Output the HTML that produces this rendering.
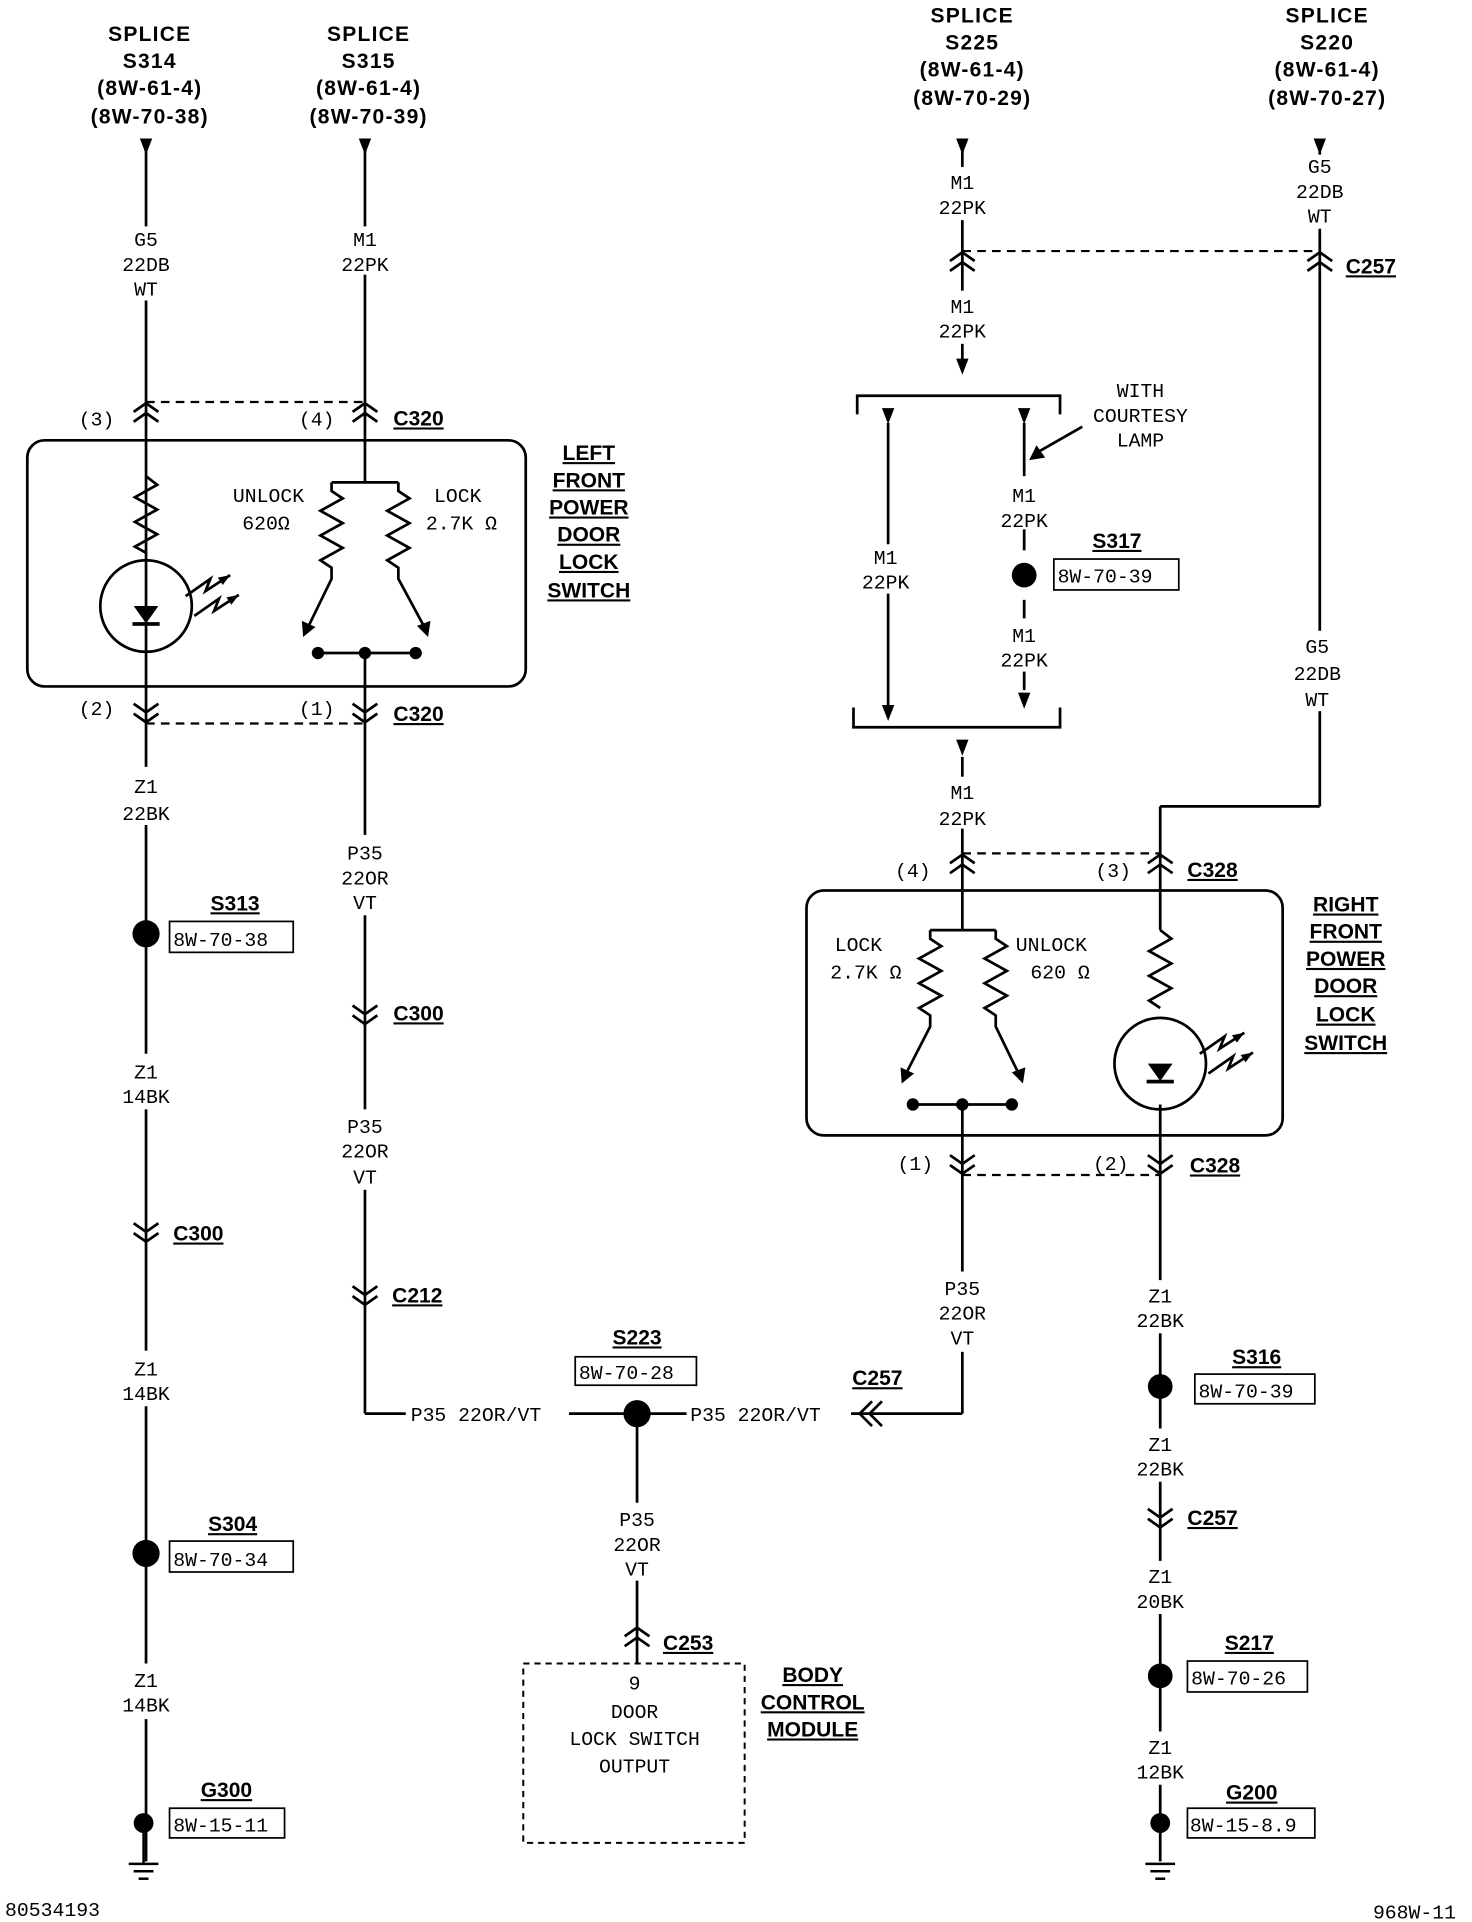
<!DOCTYPE html>
<html><head><meta charset="utf-8"><style>
html,body{margin:0;padding:0;background:#fff;}
svg{display:block;}
.h{font-family:"Liberation Sans",sans-serif;font-weight:bold;font-size:17px;letter-spacing:1px;text-anchor:middle;}
.w{font-family:"Liberation Mono",monospace;font-size:16px;text-anchor:middle;}
.l{font-family:"Liberation Mono",monospace;font-size:16px;}
.c{font-family:"Liberation Sans",sans-serif;font-weight:bold;font-size:17px;text-decoration:underline;}
.b{font-family:"Liberation Sans",sans-serif;font-weight:bold;font-size:17px;text-decoration:underline;text-anchor:middle;}
</style></head><body>
<svg width="1472" height="1922" viewBox="0 0 1190 1554" xmlns="http://www.w3.org/2000/svg">
<defs>
<g id="cu" fill="none" stroke="#000" stroke-width="2.2"><path d="M-10,7 L0,0 L10,7 M-10,15 L0,8 L10,15"/></g>
<g id="cd" fill="none" stroke="#000" stroke-width="2.2"><path d="M-10,-7 L0,0 L10,-7 M-10,-15 L0,-8 L10,-15"/></g>
<g id="ar"><path d="M-5,0 L5,0 L0,13 Z" fill="#000"/></g>
<g id="gnd" stroke="#000" stroke-width="2"><line x1="-12" y1="0" x2="12" y2="0"/><line x1="-8" y1="6" x2="8" y2="6"/><line x1="-4" y1="12" x2="4" y2="12"/></g>
</defs>
<g stroke="#000" stroke-width="2.2" fill="none">
<line x1="118" y1="118" x2="118" y2="183"/><line x1="118" y1="243" x2="118" y2="620"/>
<line x1="118" y1="667" x2="118" y2="852"/><line x1="118" y1="897" x2="118" y2="1092"/>
<line x1="118" y1="1137" x2="118" y2="1345"/><line x1="118" y1="1390" x2="118" y2="1505"/>
<line x1="295" y1="118" x2="295" y2="183"/><line x1="295" y1="222" x2="295" y2="390"/>
<line x1="295" y1="528" x2="295" y2="675"/><line x1="295" y1="740" x2="295" y2="897"/>
<line x1="295" y1="962" x2="295" y2="1143"/><line x1="295" y1="1143" x2="328" y2="1143"/>
<line x1="460" y1="1143" x2="505" y2="1143"/><line x1="525" y1="1143" x2="555" y2="1143"/>
<line x1="688" y1="1143" x2="778" y2="1143"/><line x1="778" y1="1143" x2="778" y2="1093"/>
<line x1="778" y1="950" x2="778" y2="1028"/>
<line x1="515" y1="1143" x2="515" y2="1215"/><line x1="515" y1="1278" x2="515" y2="1345"/>
<line x1="778" y1="118" x2="778" y2="135"/><line x1="778" y1="178" x2="778" y2="235"/>
<line x1="778" y1="278" x2="778" y2="292"/>
<line x1="1067" y1="118" x2="1067" y2="125"/><line x1="1067" y1="185" x2="1067" y2="510"/>
<line x1="1067" y1="575" x2="1067" y2="652"/><line x1="1067" y1="652" x2="938" y2="652"/>
<line x1="938" y1="652" x2="938" y2="752"/>
<line x1="778" y1="612" x2="778" y2="628"/><line x1="778" y1="670" x2="778" y2="752"/>
<line x1="938" y1="893" x2="938" y2="1035"/><line x1="938" y1="1078" x2="938" y2="1155"/>
<line x1="938" y1="1198" x2="938" y2="1262"/><line x1="938" y1="1305" x2="938" y2="1400"/>
<line x1="938" y1="1443" x2="938" y2="1505"/>
<line x1="778" y1="893" x2="778" y2="950"/>
<path d="M693,335 L693,320 L857,320 L857,335"/>
<path d="M690,572 L690,588 L857,588 L857,572"/>
<line x1="718" y1="342" x2="718" y2="440"/><line x1="718" y1="480" x2="718" y2="578"/>
<line x1="828" y1="342" x2="828" y2="385"/><line x1="828" y1="428" x2="828" y2="445"/>
<line x1="828" y1="485" x2="828" y2="500"/><line x1="828" y1="543" x2="828" y2="558"/>
<line x1="875" y1="345" x2="840" y2="365"/>
<rect x="22" y="356" width="403" height="199" rx="14"/>
<rect x="652" y="720" width="385" height="198" rx="14"/>
<rect x="423" y="1345" width="179" height="145" stroke-dasharray="5,4" stroke-width="1.6"/>
<g stroke-dasharray="7,5" stroke-width="1.8">
<line x1="118" y1="325" x2="295" y2="325"/><line x1="118" y1="585" x2="295" y2="585"/>
<line x1="778" y1="203" x2="1067" y2="203"/><line x1="778" y1="690" x2="938" y2="690"/>
<line x1="778" y1="950" x2="938" y2="950"/>
</g>
<path d="M118,385 L127,392 L109,402 L127,412 L109,422 L127,432 L109,442 L118,447"/>
<circle cx="118" cy="490" r="37"/>
<path d="M150,482 L170,468 L166,478 L186,465 M157,498 L177,484 L173,494 L193,481"/>
<line x1="268" y1="390" x2="322" y2="390"/>
<path d="M268,390 L268,397 L277,403 L259,413 L277,423 L259,433 L277,443 L259,453 L268,459 L268,468 L250,505"/>
<path d="M322,390 L322,397 L331,403 L313,413 L331,423 L313,433 L331,443 L313,453 L322,459 L322,468 L342,505"/>
<line x1="257" y1="528" x2="336" y2="528"/>
<line x1="752" y1="752" x2="805" y2="752"/>
<path d="M752,752 L752,759 L761,765 L743,775 L761,785 L743,795 L761,805 L743,815 L752,821 L752,830 L733,867"/>
<path d="M805,752 L805,759 L814,765 L796,775 L814,785 L796,795 L814,805 L796,815 L805,821 L805,830 L823,867"/>
<line x1="738" y1="893" x2="818" y2="893"/>
<path d="M938,752 L947,759 L929,769 L947,779 L929,789 L947,799 L929,809 L938,815"/>
<circle cx="938" cy="860" r="37"/>
<path d="M970,852 L990,838 L986,848 L1006,835 M977,868 L997,854 L993,864 L1013,851"/>
<g stroke-width="1.4">
<rect x="137" y="745" width="100" height="25"/><rect x="137" y="1246" width="100" height="25"/>
<rect x="137" y="1462" width="93" height="24"/><rect x="465" y="1097" width="98" height="23"/>
<rect x="852" y="452" width="101" height="25"/><rect x="966" y="1111" width="97" height="24"/>
<rect x="960" y="1343" width="97" height="25"/><rect x="960" y="1462" width="103" height="24"/>
</g>
<path d="M705,1133 L695,1143 L705,1153 M713,1133 L703,1143 L713,1153"/>
</g>
<g fill="#000">
<path d="M108,490 L128,490 L118,504 Z"/><rect x="107" y="503" width="22" height="3"/>
<path d="M928,860 L948,860 L938,874 Z"/><rect x="927" y="873" width="22" height="3"/>
<path d="M186,465 l-10,2 l4,6 Z"/><path d="M193,481 l-10,2 l4,6 Z"/>
<path d="M1006,835 l-10,2 l4,6 Z"/><path d="M1013,851 l-10,2 l4,6 Z"/>
<path d="M245,515 L244,502 L255,507 Z"/><path d="M346,515 L337,506 L348,502 Z"/>
<path d="M729,876 L728,863 L739,868 Z"/><path d="M827,876 L818,867 L829,863 Z"/>
<path d="M832,372 L838,360 L845,370 Z"/>
<circle cx="257" cy="528" r="5"/><circle cx="295" cy="528" r="5"/><circle cx="336" cy="528" r="5"/>
<circle cx="738" cy="893" r="5"/><circle cx="778" cy="893" r="5"/><circle cx="818" cy="893" r="5"/>
<circle cx="118" cy="755" r="11"/><circle cx="118" cy="1256" r="11"/><circle cx="116" cy="1474" r="8"/>
<circle cx="515" cy="1143" r="11"/><circle cx="828" cy="465" r="10"/>
<circle cx="938" cy="1121" r="10"/><circle cx="938" cy="1355" r="10"/><circle cx="938" cy="1474" r="8"/>
</g>
<use href="#ar" x="118" y="112"/><use href="#ar" x="295" y="112"/><use href="#ar" x="778" y="112"/><use href="#ar" x="1067" y="112"/>
<use href="#ar" x="778" y="290"/><use href="#ar" x="718" y="330"/><use href="#ar" x="828" y="330"/>
<use href="#ar" x="718" y="570"/><use href="#ar" x="828" y="560"/><use href="#ar" x="778" y="598"/>
<use href="#cu" x="118" y="326"/><use href="#cu" x="295" y="326"/><use href="#cu" x="778" y="204"/><use href="#cu" x="1067" y="204"/>
<use href="#cu" x="778" y="691"/><use href="#cu" x="938" y="691"/><use href="#cu" x="515" y="1316"/>
<use href="#cd" x="118" y="584"/><use href="#cd" x="295" y="584"/><use href="#cd" x="118" y="1004"/><use href="#cd" x="295" y="828"/>
<use href="#cd" x="295" y="1055"/><use href="#cd" x="778" y="949"/><use href="#cd" x="938" y="949"/><use href="#cd" x="938" y="1235"/>
<use href="#gnd" x="116" y="1507"/><use href="#gnd" x="938" y="1507"/>
<line x1="116" y1="1482" x2="116" y2="1507" stroke="#000" stroke-width="2"/>
<g class="h">
<text x="121" y="33">SPLICE</text><text x="121" y="55">S314</text><text x="121" y="77">(8W-61-4)</text><text x="121" y="100">(8W-70-38)</text>
<text x="298" y="33">SPLICE</text><text x="298" y="55">S315</text><text x="298" y="77">(8W-61-4)</text><text x="298" y="100">(8W-70-39)</text>
<text x="786" y="18">SPLICE</text><text x="786" y="40">S225</text><text x="786" y="62">(8W-61-4)</text><text x="786" y="85">(8W-70-29)</text>
<text x="1073" y="18">SPLICE</text><text x="1073" y="40">S220</text><text x="1073" y="62">(8W-61-4)</text><text x="1073" y="85">(8W-70-27)</text>
</g>
<g class="w">
<text x="118" y="199">G5</text><text x="118" y="219">22DB</text><text x="118" y="239">WT</text>
<text x="295" y="199">M1</text><text x="295" y="219">22PK</text>
<text x="118" y="641">Z1</text><text x="118" y="663">22BK</text>
<text x="118" y="872">Z1</text><text x="118" y="892">14BK</text>
<text x="118" y="1112">Z1</text><text x="118" y="1132">14BK</text>
<text x="118" y="1364">Z1</text><text x="118" y="1384">14BK</text>
<text x="295" y="695">P35</text><text x="295" y="715">22OR</text><text x="295" y="735">VT</text>
<text x="295" y="916">P35</text><text x="295" y="936">22OR</text><text x="295" y="957">VT</text>
<text x="515" y="1234">P35</text><text x="515" y="1254">22OR</text><text x="515" y="1274">VT</text>
<text x="778" y="1047">P35</text><text x="778" y="1067">22OR</text><text x="778" y="1087">VT</text>
<text x="778" y="153">M1</text><text x="778" y="173">22PK</text>
<text x="778" y="253">M1</text><text x="778" y="273">22PK</text>
<text x="1067" y="140">G5</text><text x="1067" y="160">22DB</text><text x="1067" y="180">WT</text>
<text x="1065" y="528">G5</text><text x="1065" y="550">22DB</text><text x="1065" y="571">WT</text>
<text x="716" y="456">M1</text><text x="716" y="476">22PK</text>
<text x="828" y="406">M1</text><text x="828" y="426">22PK</text>
<text x="828" y="519">M1</text><text x="828" y="539">22PK</text>
<text x="778" y="646">M1</text><text x="778" y="667">22PK</text>
<text x="922" y="321">WITH</text><text x="922" y="341">COURTESY</text><text x="922" y="361">LAMP</text>
<text x="938" y="1053">Z1</text><text x="938" y="1073">22BK</text>
<text x="938" y="1173">Z1</text><text x="938" y="1193">22BK</text>
<text x="938" y="1280">Z1</text><text x="938" y="1300">20BK</text>
<text x="938" y="1418">Z1</text><text x="938" y="1438">12BK</text>
<text x="217" y="406">UNLOCK</text><text x="215" y="428">620Ω</text>
<text x="370" y="406">LOCK</text><text x="373" y="428">2.7K Ω</text>
<text x="694" y="769">LOCK</text><text x="700" y="791">2.7K Ω</text>
<text x="850" y="769">UNLOCK</text><text x="857" y="791">620 Ω</text>
<text x="78" y="344">(3)</text><text x="256" y="344">(4)</text><text x="78" y="578">(2)</text><text x="256" y="578">(1)</text>
<text x="738" y="709">(4)</text><text x="900" y="709">(3)</text><text x="740" y="946">(1)</text><text x="898" y="946">(2)</text>
<text x="513" y="1366">9</text><text x="513" y="1389">DOOR</text><text x="513" y="1411">LOCK SWITCH</text><text x="513" y="1433">OUTPUT</text>
</g>
<g class="l">
<text x="332" y="1149">P35 22OR/VT</text><text x="558" y="1149">P35 22OR/VT</text>
<text x="140" y="765">8W-70-38</text><text x="140" y="1266">8W-70-34</text><text x="140" y="1481">8W-15-11</text>
<text x="468" y="1115">8W-70-28</text><text x="855" y="471">8W-70-39</text><text x="969" y="1130">8W-70-39</text>
<text x="963" y="1362">8W-70-26</text><text x="962" y="1481">8W-15-8.9</text>
<text x="4" y="1549">80534193</text><text x="1110" y="1551">968W-11</text>
</g>
<g class="c">
<text x="318" y="344">C320</text><text x="318" y="583">C320</text><text x="318" y="825">C300</text><text x="140" y="1003">C300</text>
<text x="317" y="1053">C212</text><text x="1088" y="221">C257</text><text x="960" y="709">C328</text><text x="962" y="948">C328</text>
<text x="689" y="1120">C257</text><text x="960" y="1233">C257</text><text x="536" y="1334">C253</text>
</g>
<g class="b">
<text x="190" y="736">S313</text><text x="188" y="1238">S304</text><text x="183" y="1453">G300</text>
<text x="515" y="1087">S223</text><text x="903" y="443">S317</text><text x="1016" y="1103">S316</text>
<text x="1010" y="1334">S217</text><text x="1012" y="1455">G200</text>
<text x="476" y="372">LEFT</text><text x="476" y="394">FRONT</text><text x="476" y="416">POWER</text><text x="476" y="438">DOOR</text><text x="476" y="460">LOCK</text><text x="476" y="483">SWITCH</text>
<text x="1088" y="737">RIGHT</text><text x="1088" y="759">FRONT</text><text x="1088" y="781">POWER</text><text x="1088" y="803">DOOR</text><text x="1088" y="826">LOCK</text><text x="1088" y="849">SWITCH</text>
<text x="657" y="1360">BODY</text><text x="657" y="1382">CONTROL</text><text x="657" y="1404">MODULE</text>
</g>
</svg>
</body></html>
